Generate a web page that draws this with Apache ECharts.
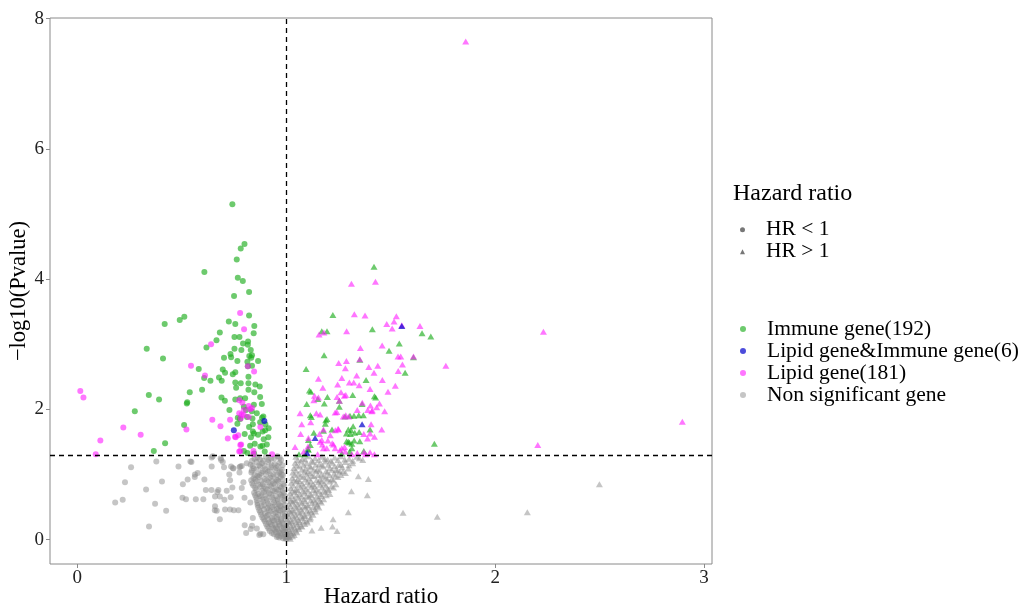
<!DOCTYPE html>
<html>
<head>
<meta charset="utf-8">
<script src="https://cdn.jsdelivr.net/npm/echarts@6/dist/echarts.min.js"></script>
<style>
html,body{margin:0;padding:0;background:#fff}
#chart{width:1035px;height:609px}
</style>
</head>
<body>
<div id="chart"></div>
<script>
// Axis ticks and significance cut-offs
const xTicks = [0, 1, 2, 3];
const yTicks = [0, 2, 4, 6, 8];
const hrCut = 1;
const pCut = 1.301;   // -log10(0.05)

const legendTitle = 'Hazard ratio';
const shapeNames = ['HR < 1', 'HR > 1'];
const groupNames = ['Immune gene(192)', 'Lipid gene&Immune gene(6)', 'Lipid gene(181)', 'Non significant gene'];

// [hazard ratio, -log10(p)] per gene, split by group and by HR side
const immuneLow = [
[0.742,5.15],[0.800,4.54],[0.782,4.47],[0.763,4.30],[0.608,4.11],[0.768,4.02],[0.792,3.97],[0.822,3.80],[0.750,3.74],[0.822,3.44],
[0.512,3.42],[0.490,3.37],[0.418,3.31],[0.725,3.35],[0.756,3.31],[0.847,3.28],[0.844,3.17],[0.682,3.18],[0.752,3.11],[0.776,3.11],
[0.666,3.06],[0.817,3.04],[0.793,3.01],[0.816,2.99],[0.618,2.95],[0.332,2.93],[0.752,2.93],[0.785,2.91],[0.830,2.91],[0.733,2.85],
[0.836,2.83],[0.702,2.79],[0.410,2.78],[0.736,2.80],[0.832,2.79],[0.766,2.74],[0.814,2.73],[0.865,2.74],[0.823,2.82],[0.836,2.67],
[0.816,2.66],[0.581,2.62],[0.696,2.61],[0.707,2.56],[0.756,2.57],[0.744,2.54],[0.607,2.48],[0.678,2.49],[0.819,2.50],[0.637,2.44],
[0.691,2.44],[0.756,2.41],[0.782,2.40],[0.819,2.40],[0.760,2.33],[0.819,2.30],[0.852,2.38],[0.873,2.35],[0.597,2.30],[0.847,2.26],
[0.690,2.18],[0.706,2.13],[0.756,2.15],[0.779,2.17],[0.803,2.17],[0.875,2.19],[0.342,2.22],[0.391,2.15],[0.538,2.26],[0.524,2.09],
[0.526,2.11],[0.845,2.07],[0.883,2.08],[0.797,2.04],[0.728,1.99],[0.807,1.99],[0.835,1.97],[0.859,1.94],[0.275,1.97],[0.768,1.87],
[0.812,1.88],[0.838,1.86],[0.884,1.87],[0.890,1.89],[0.779,1.85],[0.875,1.80],[0.766,1.78],[0.840,1.77],[0.900,1.77],[0.511,1.76],
[0.822,1.73],[0.916,1.71],[0.899,1.68],[0.840,1.66],[0.887,1.66],[0.801,1.62],[0.845,1.63],[0.865,1.61],[0.831,1.57],[0.892,1.54],
[0.914,1.57],[0.849,1.47],[0.420,1.48],[0.876,1.43],[0.907,1.46],[0.827,1.44],[0.886,1.44],[0.797,1.36],[0.814,1.33],[0.846,1.32],
[0.897,1.35],[0.366,1.36]
];
const immuneHigh = [
[1.420,4.19],[1.223,3.45],[1.412,3.23],[1.170,3.20],[1.195,3.20],[1.650,3.17],[1.692,3.12],[1.541,3.01],[1.492,2.90],[1.181,2.83],
[1.609,2.80],[1.352,2.76],[1.569,2.56],[1.095,2.62],[1.382,2.45],[1.111,2.29],[1.118,2.27],[1.151,2.16],[1.182,2.09],[1.197,2.19],
[1.318,2.22],[1.254,2.13],[1.254,2.04],[1.422,2.20],[1.428,2.18],[1.098,2.08],[1.363,2.08],[1.115,1.91],[1.120,1.88],[1.195,1.85],
[1.189,1.83],[1.187,1.78],[1.281,1.89],[1.305,1.90],[1.324,1.90],[1.347,1.91],[1.369,1.91],[1.132,1.64],[1.178,1.67],[1.219,1.69],
[1.297,1.69],[1.310,1.68],[1.288,1.63],[1.307,1.62],[1.320,1.74],[1.328,1.64],[1.349,1.65],[1.401,1.69],[1.106,1.53],[1.352,1.51],
[1.325,1.52],[1.302,1.49],[1.297,1.50],[1.314,1.47],[1.289,1.51],[1.115,1.45],[1.106,1.38],[1.103,1.39],[1.314,1.40],[1.304,1.35],
[1.371,1.36],[1.266,1.32],[1.061,1.31],[1.090,1.31],[1.709,1.47]
];
const bothLow = [[0.749,1.68],[0.895,1.82]];
const bothHigh = [[1.553,3.28],[1.363,1.77],[1.138,1.56],[1.100,1.33]];
const lipidLow = [
[0.779,3.48],[0.798,3.23],[0.640,3.00],[0.544,2.67],[0.846,2.58],[0.611,2.52],[0.816,2.66],[0.014,2.28],[0.029,2.18],[0.220,1.72],
[0.303,1.61],[0.522,1.69],[0.110,1.52],[0.088,1.31],[0.646,1.84],[0.685,1.74],[0.720,1.55],[0.731,1.84],[0.775,2.14],[0.790,2.10],
[0.820,2.05],[0.827,2.00],[0.797,1.99],[0.836,2.02],[0.775,1.94],[0.787,1.92],[0.820,1.88],[0.797,1.91],[0.782,1.86],[0.876,1.73],
[0.755,1.58],[0.770,1.60],[0.758,1.57],[0.784,1.46],[0.780,1.45],[0.775,1.35],[0.780,1.36],[0.843,1.31],[0.843,1.36],[0.932,1.31]
];
const lipidHigh = [
[1.859,7.65],[1.312,3.93],[1.427,3.96],[1.326,3.46],[1.377,3.44],[1.527,3.43],[1.516,3.35],[1.481,3.31],[1.507,3.24],[1.640,3.28],
[1.553,3.29],[1.157,3.15],[1.180,3.18],[1.289,3.20],[2.231,3.19],[1.355,2.94],[1.459,2.98],[1.535,2.81],[1.548,2.81],[1.609,2.81],
[1.764,2.67],[1.251,2.71],[1.288,2.74],[1.352,2.77],[1.556,2.69],[1.536,2.59],[1.395,2.65],[1.438,2.67],[1.283,2.63],[1.420,2.56],
[1.337,2.52],[1.154,2.47],[1.266,2.48],[1.302,2.41],[1.323,2.41],[1.349,2.37],[1.246,2.38],[1.460,2.45],[1.522,2.36],[1.175,2.33],
[1.401,2.31],[1.487,2.27],[1.262,2.26],[1.285,2.22],[1.135,2.21],[1.154,2.18],[1.132,2.14],[1.243,2.19],[1.278,2.21],[1.254,2.13],
[1.364,2.10],[1.403,2.06],[1.446,2.09],[1.433,2.03],[1.390,1.99],[1.412,1.98],[1.471,1.97],[1.066,1.94],[1.144,1.94],[1.162,1.92],
[1.242,1.96],[1.234,1.95],[1.273,1.89],[1.285,1.91],[1.299,1.89],[1.409,1.97],[1.340,1.99],[1.117,1.80],[1.074,1.77],[1.406,1.77],
[1.457,1.69],[1.069,1.62],[1.106,1.56],[1.159,1.62],[1.178,1.69],[1.211,1.60],[1.235,1.68],[1.248,1.70],[1.250,1.69],[1.371,1.62],
[1.389,1.55],[1.401,1.63],[1.422,1.58],[1.170,1.53],[1.199,1.52],[1.220,1.48],[1.162,1.50],[1.173,1.46],[1.226,1.46],[1.042,1.42],
[1.084,1.35],[1.104,1.43],[1.194,1.40],[1.178,1.40],[1.234,1.40],[1.257,1.37],[1.279,1.42],[1.266,1.40],[1.283,1.35],[1.340,1.33],
[1.372,1.34],[1.401,1.34],[1.380,1.31],[1.422,1.31],[1.314,1.31],[1.150,1.31],[2.896,1.81],[2.204,1.45]
];
const nonsigLow = [
[0.257,1.11],[0.228,0.88],[0.181,0.57],[0.217,0.61],[0.329,0.77],[0.343,0.20],[0.372,0.55],[0.405,0.89],[0.378,1.20],[0.425,0.44],
[0.484,1.12],[0.505,0.85],[0.528,0.92],[0.541,1.20],[0.546,1.19],[0.503,0.64],[0.520,0.62],[0.567,0.62],[0.562,0.96],[0.563,1.00],
[0.576,1.02],[0.608,0.92],[0.603,0.62],[0.615,0.76],[0.642,0.76],[0.643,1.12],[0.643,1.26],[0.648,1.28],[0.686,1.25],[0.696,1.19],
[0.670,0.73],[0.675,0.76],[0.659,0.66],[0.682,0.66],[0.704,0.61],[0.715,0.75],[0.734,0.65],[0.742,0.80],[0.731,0.91],[0.727,1.00],
[0.702,1.11],[0.736,1.12],[0.747,1.09],[0.744,1.10],[0.688,1.22],[0.659,0.51],[0.658,0.45],[0.667,0.44],[0.682,0.31],[0.707,0.46],
[0.731,0.46],[0.749,0.45],[0.771,0.45],[0.776,1.11],[0.780,1.12],[0.776,1.03],[0.787,1.13],[0.811,1.17],[0.801,0.22],[0.808,0.10],
[0.787,0.79],[0.795,0.88],[0.800,0.64],[0.828,0.57],[0.840,0.33],[0.836,0.21],[0.830,0.16],[0.859,0.17],[0.871,0.07],[0.876,0.09],
[0.890,0.08],
[0.836,1.21],[0.862,1.26],[0.874,1.23],[0.903,1.27],[0.928,1.24],[0.957,1.28],[0.975,1.22],
[0.848,1.24],[0.889,1.21],[0.916,1.22],[0.943,1.25],[0.968,1.26],
[0.829,1.15],[0.858,1.19],[0.884,1.17],[0.913,1.19],[0.944,1.16],[0.968,1.18],
[0.840,1.13],[0.870,1.14],[0.898,1.13],[0.930,1.14],[0.958,1.13],[0.982,1.14],
[0.844,1.09],[0.875,1.12],[0.899,1.08],[0.926,1.11],[0.952,1.10],[0.979,1.07],
[0.835,1.06],[0.858,1.07],[0.887,1.05],[0.919,1.06],[0.946,1.07],[0.972,1.05],
[0.833,1.03],[0.862,0.98],[0.881,1.02],[0.911,1.04],[0.938,1.00],[0.966,1.03],[0.984,0.99],
[0.848,0.99],[0.873,0.99],[0.903,1.00],[0.928,0.98],[0.955,0.99],[0.978,1.00],
[0.843,0.94],[0.869,0.96],[0.896,0.93],[0.923,0.95],[0.951,0.92],[0.973,0.96],
[0.832,0.91],[0.852,0.92],[0.881,0.90],[0.907,0.91],[0.933,0.90],[0.958,0.91],[0.982,0.92],
[0.837,0.86],[0.858,0.89],[0.887,0.85],[0.914,0.88],[0.939,0.86],[0.962,0.89],[0.986,0.85],
[0.842,0.83],[0.866,0.84],[0.893,0.82],[0.921,0.83],[0.946,0.84],[0.970,0.82],[0.990,0.83],
[0.851,0.79],[0.876,0.81],[0.902,0.78],[0.928,0.81],[0.953,0.77],[0.976,0.80],
[0.856,0.76],[0.884,0.75],[0.910,0.76],[0.936,0.75],[0.962,0.76],[0.983,0.75],
[0.846,0.72],[0.866,0.70],[0.893,0.73],[0.918,0.71],[0.944,0.74],[0.968,0.70],[0.989,0.72],
[0.851,0.68],[0.873,0.67],[0.900,0.68],[0.926,0.69],[0.951,0.67],[0.975,0.68],[0.993,0.67],
[0.856,0.64],[0.881,0.66],[0.906,0.63],[0.933,0.65],[0.958,0.62],[0.981,0.66],
[0.859,0.60],[0.885,0.61],[0.910,0.60],[0.937,0.61],[0.960,0.60],[0.990,0.61],
[0.862,0.56],[0.889,0.58],[0.914,0.55],[0.941,0.57],[0.963,0.54],[0.986,0.58],
[0.863,0.53],[0.894,0.53],[0.920,0.52],[0.946,0.53],[0.968,0.52],[0.993,0.53],
[0.866,0.49],[0.882,0.51],[0.909,0.48],[0.934,0.50],[0.956,0.47],[0.974,0.51],[0.991,0.48],
[0.871,0.45],[0.893,0.46],[0.917,0.45],[0.942,0.46],[0.964,0.45],[0.984,0.46],
[0.876,0.42],[0.898,0.40],[0.924,0.43],[0.949,0.41],[0.971,0.44],[0.992,0.40],
[0.880,0.38],[0.912,0.38],[0.938,0.39],[0.961,0.38],[0.983,0.39],
[0.886,0.34],[0.906,0.36],[0.931,0.33],[0.954,0.35],[0.977,0.32],[0.995,0.36],
[0.892,0.31],[0.913,0.31],[0.935,0.30],[0.956,0.31],[0.975,0.30],[0.996,0.31],
[0.897,0.28],[0.918,0.26],[0.941,0.29],[0.962,0.27],[0.982,0.25],
[0.903,0.24],[0.925,0.24],[0.946,0.23],[0.966,0.24],[0.988,0.23],
[0.909,0.20],[0.931,0.22],[0.951,0.19],[0.969,0.21],[0.989,0.18],
[0.915,0.17],[0.938,0.17],[0.957,0.16],[0.978,0.17],[0.996,0.16],
[0.921,0.13],[0.944,0.15],[0.964,0.12],[0.986,0.14],
[0.931,0.10],[0.951,0.11],[0.970,0.10],[0.990,0.11],
[0.941,0.08],[0.959,0.06],[0.978,0.09],[0.996,0.07],
[0.955,0.04],[0.973,0.05],[0.991,0.04],
[0.966,0.03],[0.984,0.02],[0.999,0.01]
];
const nonsigHigh = [
[1.345,0.97],[1.393,0.93],[1.312,0.74],[1.388,0.68],[1.297,0.42],[1.559,0.41],[1.723,0.35],[1.224,0.31],[1.167,0.18],[1.123,0.14],
[1.221,0.20],[1.243,0.13],[2.499,0.85],[2.154,0.42],
[1.046,1.27],[1.078,1.24],[1.107,1.28],[1.138,1.25],[1.171,1.27],[1.198,1.23],[1.232,1.26],[1.262,1.28],[1.301,1.24],[1.338,1.27],[1.366,1.22],
[1.055,1.22],[1.090,1.23],[1.122,1.21],[1.155,1.22],[1.185,1.24],[1.214,1.21],[1.247,1.22],[1.280,1.23],[1.318,1.21],[1.350,1.25],
[1.042,1.18],[1.069,1.20],[1.098,1.17],[1.127,1.19],[1.158,1.16],[1.186,1.20],[1.219,1.18],[1.251,1.15],[1.283,1.19],[1.318,1.17],
[1.050,1.14],[1.083,1.15],[1.112,1.13],[1.141,1.15],[1.170,1.14],[1.201,1.15],[1.232,1.13],[1.262,1.15],[1.300,1.14],
[1.036,1.10],[1.063,1.12],[1.091,1.09],[1.118,1.11],[1.149,1.08],[1.177,1.12],[1.208,1.10],[1.238,1.07],[1.268,1.11],[1.297,1.09],
[1.046,1.06],[1.074,1.07],[1.103,1.05],[1.131,1.07],[1.160,1.06],[1.190,1.05],[1.219,1.07],[1.246,1.06],[1.272,1.05],
[1.031,1.03],[1.058,1.01],[1.087,1.04],[1.114,1.02],[1.142,1.05],[1.168,1.00],[1.197,1.03],[1.228,1.01],[1.256,1.04],[1.283,1.02],
[1.041,0.99],[1.069,0.98],[1.097,1.00],[1.124,0.98],[1.152,0.99],[1.178,0.97],[1.207,0.99],[1.236,0.98],[1.262,0.99],
[1.028,0.95],[1.054,0.93],[1.081,0.96],[1.108,0.94],[1.133,0.97],[1.161,0.92],[1.189,0.95],[1.218,0.93],[1.247,0.96],
[1.037,0.91],[1.064,0.90],[1.092,0.92],[1.118,0.90],[1.145,0.91],[1.170,0.90],[1.197,0.92],[1.226,0.91],
[1.024,0.87],[1.049,0.89],[1.076,0.86],[1.101,0.88],[1.128,0.85],[1.154,0.88],[1.181,0.86],[1.209,0.89],[1.238,0.85],
[1.034,0.83],[1.058,0.84],[1.083,0.82],[1.110,0.84],[1.136,0.82],[1.162,0.84],[1.190,0.83],[1.216,0.82],
[1.021,0.79],[1.046,0.77],[1.069,0.80],[1.094,0.78],[1.121,0.81],[1.144,0.77],[1.171,0.80],[1.198,0.78],[1.226,0.80],
[1.030,0.75],[1.054,0.76],[1.079,0.74],[1.104,0.75],[1.129,0.76],[1.155,0.74],[1.180,0.75],[1.203,0.76],
[1.018,0.71],[1.041,0.73],[1.063,0.70],[1.088,0.72],[1.114,0.69],[1.139,0.72],[1.166,0.70],[1.188,0.73],[1.209,0.70],
[1.027,0.67],[1.048,0.68],[1.073,0.66],[1.097,0.67],[1.121,0.68],[1.146,0.66],[1.168,0.67],[1.192,0.68],
[1.015,0.63],[1.036,0.61],[1.058,0.64],[1.084,0.62],[1.108,0.65],[1.131,0.61],[1.154,0.63],[1.179,0.62],
[1.023,0.59],[1.044,0.60],[1.067,0.58],[1.091,0.59],[1.117,0.60],[1.139,0.58],[1.162,0.59],
[1.012,0.55],[1.031,0.57],[1.053,0.54],[1.076,0.56],[1.099,0.53],[1.124,0.56],[1.148,0.54],[1.168,0.57],
[1.020,0.51],[1.040,0.52],[1.061,0.50],[1.083,0.51],[1.106,0.52],[1.129,0.50],[1.148,0.52],
[1.009,0.47],[1.028,0.45],[1.049,0.48],[1.071,0.46],[1.092,0.49],[1.114,0.45],[1.138,0.47],[1.156,0.49],
[1.016,0.43],[1.036,0.44],[1.056,0.42],[1.077,0.43],[1.099,0.44],[1.121,0.42],[1.140,0.43],
[1.006,0.39],[1.024,0.41],[1.044,0.38],[1.066,0.40],[1.086,0.37],[1.106,0.40],[1.128,0.38],
[1.013,0.35],[1.031,0.36],[1.050,0.34],[1.071,0.35],[1.091,0.36],[1.116,0.34],
[1.004,0.31],[1.021,0.29],[1.039,0.32],[1.059,0.30],[1.079,0.33],[1.098,0.29],[1.114,0.31],
[1.011,0.27],[1.028,0.28],[1.046,0.26],[1.064,0.27],[1.083,0.28],[1.101,0.26],
[1.002,0.23],[1.016,0.25],[1.034,0.22],[1.054,0.24],[1.071,0.21],[1.089,0.24],
[1.008,0.19],[1.023,0.20],[1.040,0.18],[1.058,0.19],[1.075,0.20],
[1.001,0.15],[1.014,0.13],[1.029,0.16],[1.046,0.14],[1.061,0.16],
[1.005,0.11],[1.019,0.12],[1.033,0.10],[1.050,0.11],
[1.000,0.08],[1.011,0.06],[1.024,0.09],[1.038,0.07],
[1.004,0.05],[1.016,0.04],[1.030,0.05],
[0.998,0.02],[1.009,0.03],[1.019,0.01]
];

const FONT = '"Liberation Serif", "Times New Roman", serif';
const colors = {
  immune: {color: '#1fae1f', opacity: 0.65},
  both:   {color: '#0000cc', opacity: 0.7},
  lipid:  {color: '#ff1aff', opacity: 0.6},
  nonsig: {color: '#8c8c8c', opacity: 0.5}
};
const CIRCLE = 6, TRIANGLE = [7, 6];

function pointSeries(name, data, style, low) {
  return {
    name: name,
    type: 'scatter',
    data: data,
    symbol: low ? 'circle' : 'triangle',
    symbolSize: low ? CIRCLE : TRIANGLE,
    itemStyle: {color: style.color, opacity: style.opacity},
    emphasis: {disabled: true},
    silent: true
  };
}

const series = [
  pointSeries(groupNames[3], nonsigLow, colors.nonsig, true),
  pointSeries(groupNames[3], nonsigHigh, colors.nonsig, false),
  pointSeries(groupNames[0], immuneLow, colors.immune, true),
  pointSeries(groupNames[0], immuneHigh, colors.immune, false),
  pointSeries(groupNames[2], lipidLow, colors.lipid, true),
  pointSeries(groupNames[2], lipidHigh, colors.lipid, false),
  pointSeries(groupNames[1], bothLow, colors.both, true),
  pointSeries(groupNames[1], bothHigh, colors.both, false),
  // empty series that only carry the shape legend
  {name: shapeNames[0], type: 'scatter', data: [], symbol: 'circle', itemStyle: {color: '#555'}},
  {name: shapeNames[1], type: 'scatter', data: [], symbol: 'triangle', itemStyle: {color: '#555'}},
  // cut-off lines
  {
    name: 'cutoff', type: 'scatter', data: [], z: 5,
    markLine: {
      silent: true, symbol: 'none', animation: false,
      label: {show: false},
      lineStyle: {color: '#000', width: 1.3, type: [5, 4]},
      data: [{xAxis: hrCut}, {yAxis: pCut}]
    }
  }
];

const legendText = {fontFamily: FONT, fontSize: 21.5, color: '#000', lineHeight: 20.5, padding: [0, 0, 0, 16]};

const option = {
  animation: false,
  backgroundColor: '#fff',
  grid: {
    left: 50, right: 323, top: 18, bottom: 45,
    containLabel: false, outerBoundsMode: 'none',
    show: true, borderColor: '#8a8a8a', borderWidth: 1, backgroundColor: 'transparent'
  },
  xAxis: {
    type: 'value', min: -0.131, max: 3.038,
    name: 'Hazard ratio', nameLocation: 'middle', nameGap: 21, nameMoveOverlap: false,
    nameTextStyle: {fontFamily: FONT, fontSize: 23, color: '#000'},
    axisLine: {show: false, onZero: false},
    splitLine: {show: false},
    axisTick: {show: true, length: 4, customValues: xTicks, lineStyle: {color: '#8a8a8a'}},
    axisLabel: {customValues: xTicks, margin: 5, fontFamily: FONT, fontSize: 19, color: '#222'}
  },
  yAxis: {
    type: 'value', min: -0.376, max: 8.01,
    name: '\u2212log10(Pvalue)', nameLocation: 'middle', nameGap: 19, nameRotate: 90, nameMoveOverlap: false,
    nameTextStyle: {fontFamily: FONT, fontSize: 22.5, color: '#000'},
    axisLine: {show: false, onZero: false},
    splitLine: {show: false},
    axisTick: {show: true, length: 4, customValues: yTicks, lineStyle: {color: '#8a8a8a'}},
    axisLabel: {customValues: yTicks, margin: 6, fontFamily: FONT, fontSize: 19, color: '#222'}
  },
  legend: [
    {
      orient: 'vertical', left: 740, top: 218.75, padding: 0, itemGap: 0,
      itemWidth: 5, itemHeight: 5, selectedMode: false,
      data: [
        {name: shapeNames[0], icon: 'circle', itemStyle: {color: '#555'}},
        {name: shapeNames[1], icon: 'triangle', itemStyle: {color: '#555'}}
      ],
      textStyle: legendText
    },
    {
      orient: 'vertical', left: 740, top: 318, padding: 0, itemGap: 0,
      itemWidth: 6, itemHeight: 6, selectedMode: false,
      data: [
        {name: groupNames[0], icon: 'circle', itemStyle: colors.immune},
        {name: groupNames[1], icon: 'circle', itemStyle: colors.both},
        {name: groupNames[2], icon: 'circle', itemStyle: colors.lipid},
        {name: groupNames[3], icon: 'circle', itemStyle: colors.nonsig}
      ],
      textStyle: legendText
    }
  ],
  graphic: [{
    type: 'text', left: 733, top: 182,
    style: {text: legendTitle, font: '24px ' + FONT, fill: '#000'}
  }],
  series: series
};

const chart = echarts.init(document.getElementById('chart'), null, {renderer: 'canvas'});
chart.setOption(option);
</script>
</body>
</html>
